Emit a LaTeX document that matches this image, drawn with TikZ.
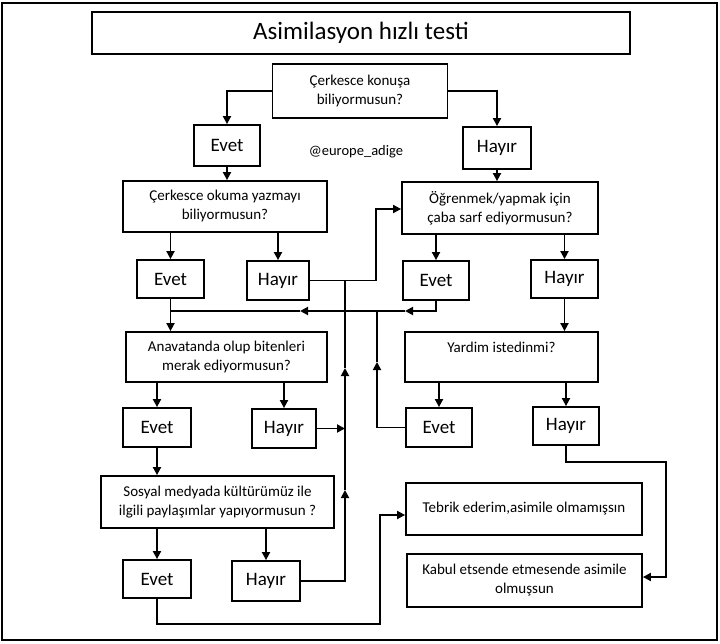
\documentclass[tikz,border=0pt]{standalone}
\usepackage{fontspec}
\setmainfont{Carlito}
\usetikzlibrary{arrows.meta}
\tikzset{
  >={Triangle[length=8pt,width=8pt]},
  qbox/.style={draw, align=center, inner sep=0pt, font=\fontsize{15}{19}\selectfont},
  abox/.style={draw, inner sep=0pt, minimum width=66, minimum height=39, font=\fontsize{19}{22}\selectfont},
}

\begin{document}
\begin{tikzpicture}[x=1pt,y=-1pt,line width=1.8pt]
            \useasboundingbox (0,0) rectangle (720,644);
            \draw (2,3) rectangle (717,640);
            \node (title) at (361,33) [draw, minimum width=538, minimum height=42, inner sep=0pt, font=\fontsize{25}{30}\selectfont] {Asimilasyon hızlı testi};
            \node (q1) at (360,91) [qbox, minimum width=175, minimum height=54] {Çerkesce konuşa\\biliyormusun?};
            \node (e1) at (227,145.5) [abox, minimum height=41] {Evet};
            \node (h1) at (497,148) [abox, minimum width=68, minimum height=42] {Hayır};
            \node (mark) at (356,152) [font=\fontsize{14.5}{17}\selectfont] {@europe\_adige};
            \node (q2) at (225,206.5) [qbox, minimum width=204, minimum height=51] {Çerkesce okuma yazmayı\\biliyormusun?};
            \node (e2) at (170.5,279) [abox, minimum width=67, minimum height=38] {Evet};
            \node (h2) at (278,280.5) [abox, minimum width=62] {Hayır};
            \node (q3) at (500,208) [qbox, minimum width=196, minimum height=52] {Öğrenmek/yapmak için\\çaba sarf ediyormusun?};
            \node (e3) at (436,280.5) [abox] {Evet};
            \node (h3) at (564.5,279) [abox, minimum width=67, minimum height=38] {Hayır};
            \node (q4) at (226.5,357) [qbox, minimum width=201, minimum height=50] {Anavatanda olup bitenleri\\merak ediyormusun?};
            \node (q5) at (501.5,357) [qbox, minimum width=193, minimum height=50] {Yardim istedinmi?\\~};
            \node (e4) at (157,427.5) [abox, minimum width=68] {Evet};
            \node (h4) at (284,428.5) [abox, minimum width=64] {Hayır};
            \node (e5) at (439,427.5) [abox] {Evet};
            \node (h5) at (566,426) [abox, minimum height=38] {Hayır};
            \node (q6) at (217.5,502) [qbox, minimum width=233, minimum height=52] {Sosyal medyada kültürümüz ile\\ilgili paylaşımlar yapıyormusun ?};
            \node (e6) at (157,579) [abox, minimum width=68, minimum height=38] {Evet};
            \node (h6) at (266,581) [abox, minimum width=68, minimum height=40] {Hayır};
            \node (t1) at (524,509) [qbox, minimum width=236, minimum height=52] {Tebrik ederim,asimile olmamışsın};
            \node (k1) at (524.5,580.5) [qbox, minimum width=235, minimum height=53] {Kabul etsende etmesende asimile\\olmuşsun};
            \coordinate (m1) at (170.5,311);
            \coordinate (m2) at (405,311);
            \coordinate (m3) at (300,311);
            \coordinate (j2) at (377,311);
            \coordinate (a2) at (377,362);
            \coordinate (u1) at (345,490);
            \coordinate (u2) at (345,368);
            \coordinate (j3) at (345,281);
            \coordinate (b1) at (376,209);
            \coordinate (d0) at (380,624);
            \coordinate (d1) at (380,515);
            \coordinate (f1) at (666,462);
            \coordinate (f2) at (666,577);
            \draw [->] (q1.west) -| (e1.north);
            \draw [->] (q1.east) -| (h1.north);
            \draw [->] (e1.south) -- (e1.south |- q2.north);
            \draw [->] (e2.north |- q2.south) -- (e2.north);
            \draw [->] (h2.north |- q2.south) -- (h2.north);
            \draw [->] (h1.south) -- (h1.south |- q3.north);
            \draw [->] (e3.north |- q3.south) -- (e3.north);
            \draw [->] (h3.north |- q3.south) -- (h3.north);
            \draw [->] (h3.south) -- (h3.south |- q5.north);
            \draw [->] (e4.north |- q4.south) -- (e4.north);
            \draw [->] (h4.north |- q4.south) -- (h4.north);
            \draw [->] (e5.north |- q5.south) -- (e5.north);
            \draw [->] (h5.north |- q5.south) -- (h5.north);
            \draw [->] (e4.south) -- (e4.south |- q6.north);
            \draw [->] (e6.north |- q6.south) -- (e6.north);
            \draw [->] (h6.north |- q6.south) -- (h6.north);
            \draw [->] (e3.south) |- (m2);
            \draw [->] (m2) -- (m3);
            \draw [->] (m3) -- (m1) -- (m1 |- q4.north);
            \draw (e2.south) -- (m1);
            \draw [->] (e5.west) -| (a2);
            \draw (a2) -- (j2);
            \draw [->] (h6.east) -| (u1);
            \draw [->] (u1) -- (u2);
            \draw (u2) -- (j3);
            \draw [->] (h4.east) -- (h4.east -| u1);
            \draw [->] (h2.east) -| (b1) -- (b1 -| q3.west);
            \draw [->] (e6.south) |- (d0) -- (d1) -- (d1 -| t1.west);
            \draw [->] (h5.south) |- (f1) -- (f2) -- (f2 -| k1.east);
        \end{tikzpicture}
\end{document}
